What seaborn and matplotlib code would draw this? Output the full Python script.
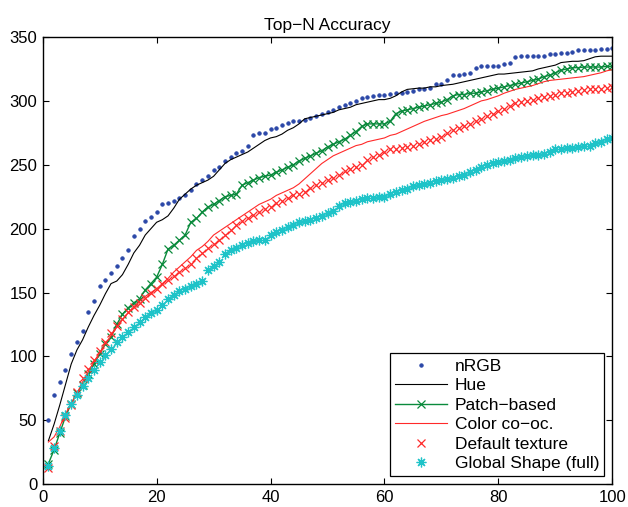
import matplotlib
matplotlib.use("Agg")
import matplotlib.pyplot as plt
import seaborn as sns
import numpy as np
import pandas as pd

# ── Data: number of correct matches within the top-N candidates ─────────────
n_values = list(range(1, 101))

nrgb = [50, 70, 80, 89, 102, 111, 120, 135, 143, 155, 160, 165, 171, 177, 183, 194, 200, 206, 209, 213,
        219, 220, 222, 224, 226, 230, 235, 238, 241, 246, 248, 253, 256, 259, 261, 265, 273, 275, 275, 278,
        279, 281, 283, 284, 284, 285, 287, 288, 290, 291, 293, 295, 297, 298, 300, 302, 303, 304, 305, 305,
        305.5, 306, 306.5, 307, 308, 309, 309.5, 310, 313, 313.5, 316, 320, 320, 321, 322, 326, 327, 327, 327, 327,
        329, 330, 334, 335.5, 335.5, 335.5, 335.5, 335.5, 336.5, 336.5, 337.5, 337.5, 338.5, 340, 340, 340, 340, 340.5, 341, 341.7]

hue = [34, 47, 62, 78, 94, 105, 113, 123, 132, 140, 149, 157, 159, 164, 172, 181, 187, 195, 200, 205,
       207, 210, 216, 223, 227, 231, 234, 236, 238, 241, 246, 251, 254, 256, 258, 260, 263, 266, 269, 271,
       272, 274, 277, 279, 282, 286, 287, 288, 289, 290, 291, 293, 294, 295, 297, 298, 299, 300, 301, 301,
       302, 304, 307, 309, 309.5, 310, 310, 311, 311, 312, 312.5, 313, 314, 315, 316, 317, 318, 319, 320, 321,
       321, 321.5, 322, 322.5, 323, 323.5, 325, 326, 327, 328, 330, 330.5, 331, 331, 331.5, 333, 334.5, 335, 335, 335]

patch_based = [16, 27, 40, 53, 63, 71, 78, 86, 94, 102, 110, 115, 125, 133, 138, 142, 145, 152, 157, 162,
               172, 184, 187, 191, 195, 205, 208, 213, 217, 219, 222, 225, 226, 227, 234, 236, 238, 240, 241, 242,
               244, 246, 248, 250, 253, 255, 257, 259, 261, 264, 266, 268, 270, 273, 276, 280, 282, 282, 282, 282,
               284, 290, 292, 293, 294, 295, 296, 297, 298, 299, 301, 304, 305, 305, 306, 306, 307, 308, 309, 310,
               311, 312, 313, 314, 315, 316, 317, 319, 320, 322, 324, 325, 326, 326, 326.5, 326.5, 326.5, 326.5, 327, 327]

color_cooc = [33, 37, 45, 55, 63, 71, 80, 88, 96, 103, 110, 116, 123, 129, 134, 139, 143, 147, 150, 153,
              157, 161, 166, 170, 174, 178, 183, 186, 190, 195, 198, 201, 204, 207, 210, 213, 216, 219, 221, 223,
              226, 228, 230, 232, 235, 239, 243, 247, 251, 254, 257, 259, 261, 263, 265, 266, 268, 269, 270, 271,
              273, 274, 276, 278, 280, 282, 284, 285.5, 287, 288.5, 289.5, 291, 292.5, 294, 296, 298, 300, 301, 302.5, 304,
              306, 307.5, 309, 310, 311, 312, 313.5, 315, 316, 316.5, 317, 317.5, 318, 318.5, 319, 320, 321, 322, 323.5, 324.5]

default_texture = [13, 30, 42, 52, 62, 72, 83, 90, 97, 104, 111, 118, 124, 129, 135, 139, 142, 146, 150, 153,
                   157, 160, 163, 166, 169, 172, 177, 181, 185, 188, 191, 195, 199, 203, 206, 208, 211, 213, 215, 217,
                   220, 222, 224, 226, 227, 229, 232, 234, 236, 238, 240, 242, 245, 247, 248, 250, 254, 256, 258, 260,
                   262, 262, 263, 264, 265, 266, 268, 269, 270, 272, 275, 277, 279, 280, 282, 284, 286, 288, 290, 292,
                   294, 296, 298, 299, 300, 301, 302, 303, 304, 305, 306, 306.5, 307, 308, 308.5, 309, 309, 309.5, 310, 311]

global_shape = [14, 28, 42, 54, 63, 70, 77, 83, 89, 96, 101, 106, 111, 115, 119, 123, 127, 131, 134, 136,
                140, 145, 148, 151, 153, 155, 157, 159, 168, 171, 174, 180, 183, 185, 187, 189, 190, 191, 191, 195,
                197, 199, 201, 203, 205, 206, 207, 208, 210, 212, 214, 218, 220, 221, 222, 223, 224, 224, 224.5, 225,
                227, 229, 230, 231, 233, 234, 235, 236, 237, 238, 239, 240, 241, 242, 244, 246, 248, 250, 251, 252,
                253, 254, 255, 256, 257, 257.5, 258, 258.5, 260, 262, 262.5, 263, 263.5, 264, 264.5, 265, 267, 268, 270, 271]

x_ticks = [0, 20, 40, 60, 80, 100]
y_ticks = [0, 50, 100, 150, 200, 250, 300, 350]

# ── Style (MATLAB-like) ──────────────────────────────────────────────────────
plt.rcParams["font.family"] = ["Liberation Sans", "DejaVu Sans"]

BLUE  = "#2c48a8"
GREEN = "#0a8a3c"
RED   = "#ff2a2a"
CYAN  = "#1ec3c8"

# seaborn draws marker edges white by default, so set them explicitly
series = [
    ("nRGB",                nrgb,            dict(color=BLUE, marker="o", markersize=2.4,
                                                  markeredgecolor=BLUE, linestyle="none")),
    ("Hue",                 hue,             dict(color="black", linewidth=0.8)),
    ("Patch\u2212based",    patch_based,     dict(color=GREEN, linewidth=1.0, marker="x",
                                                  markersize=5.5, markeredgewidth=0.9,
                                                  markeredgecolor=GREEN)),
    ("Color co\u2212oc.",   color_cooc,      dict(color=RED, linewidth=0.8)),
    ("Default texture",     default_texture, dict(color=RED, marker="x", markersize=5.5,
                                                  markeredgewidth=0.9, markeredgecolor=RED,
                                                  linestyle="none")),
    ("Global Shape (full)", global_shape,    dict(color=CYAN, marker=(8, 2, 0), markersize=7,
                                                  markeredgewidth=0.9, markeredgecolor=CYAN,
                                                  linestyle="none")),
]

fig = plt.figure(figsize=(6.28, 5.07), dpi=100, facecolor="white")
ax = fig.add_axes([0.068, 0.045, 0.907, 0.882])

for name, vals, style in series:
    df = pd.DataFrame({"N": n_values, "count": vals})
    sns.lineplot(data=df, x="N", y="count", ax=ax, label=name, **style)

ax.set_xlim(0, 100)
ax.set_ylim(0, 350)
ax.set_xticks(x_ticks)
ax.set_yticks(y_ticks)
ax.set_xlabel("")
ax.set_ylabel("")
ax.set_title("Top\u2212N Accuracy", fontsize=12.5, pad=5)
ax.tick_params(direction="in", top=True, right=True, length=4, width=0.8,
               labelsize=12, pad=4)
for spine in ax.spines.values():
    spine.set_linewidth(1.0)
    spine.set_color("black")

leg = ax.legend(loc="lower right", numpoints=1, fontsize=12.5, handlelength=3.0,
                labelspacing=0.25, borderaxespad=0.45, fancybox=False,
                framealpha=1.0, edgecolor="black", borderpad=0.3,
                handletextpad=0.45)
leg.get_frame().set_linewidth(0.9)

fig.savefig("out.png", dpi=100, facecolor="white")
